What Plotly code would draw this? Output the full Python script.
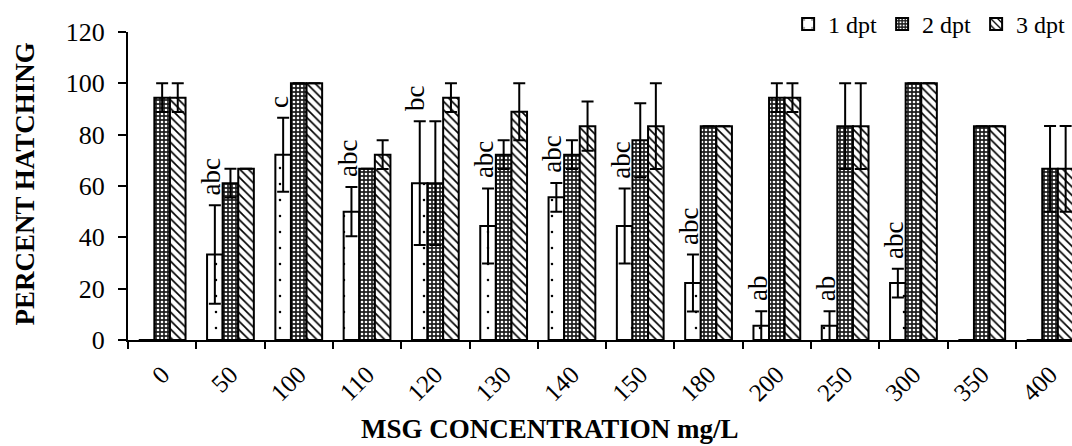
import plotly.graph_objects as go

# MSG concentrations (mg/L)
concentrations = ["0", "50", "100", "110", "120", "130", "140", "150",
                  "180", "200", "250", "300", "350", "400"]

# Mean percent hatching per day post treatment
hatch_1dpt = [0, 33.3, 72.2, 50.0, 61.1, 44.4, 55.6, 44.4, 22.2, 5.6, 5.6, 22.2, 0, 0]
hatch_2dpt = [94.4, 61.1, 100, 66.7, 61.1, 72.2, 72.2, 77.8, 83.3, 94.4, 83.3, 100, 83.3, 66.7]
hatch_3dpt = [94.4, 66.7, 100, 72.2, 94.4, 88.9, 83.3, 83.3, 83.3, 94.4, 83.3, 100, 83.3, 66.7]

# Error (± SD)
err_1dpt = [0, 19.2, 14.4, 9.6, 24.1, 14.6, 5.6, 14.6, 11.1, 5.6, 5.6, 5.6, 0, 0]
err_2dpt = [5.6, 5.6, 0, 0, 24.1, 5.6, 5.6, 14.4, 0, 5.6, 16.7, 0, 0, 16.7]
err_3dpt = [5.6, 0, 0, 5.6, 5.6, 11.1, 9.6, 16.7, 0, 5.6, 16.7, 0, 0, 16.7]

# Significance letters for 1 dpt
sig_letters = ["", "abc", "c", "abc", "bc", "abc", "abc", "abc",
               "abc", "ab", "ab", "abc", "", ""]

series_names = ["1 dpt", "2 dpt", "3 dpt"]

FONT = "Liberation Serif"
BAR_GAP = 0.315

patterns = [
    dict(shape=".", size=16, solidity=0.02, fgcolor="black", bgcolor="white", fillmode="replace"),
    dict(shape=".", size=4, solidity=0.35, fgcolor="white", bgcolor="#202020", fillmode="replace"),
    dict(shape="\\", size=6, solidity=0.28, fgcolor="black", bgcolor="white", fillmode="replace"),
]

fig = go.Figure()
for name, vals, errs, pat in zip(series_names,
                                 [hatch_1dpt, hatch_2dpt, hatch_3dpt],
                                 [err_1dpt, err_2dpt, err_3dpt],
                                 patterns):
    fig.add_trace(go.Bar(
        name=name,
        x=concentrations,
        y=vals,
        marker=dict(color="white", pattern=pat, line=dict(color="black", width=2)),
        error_y=dict(type="data", array=errs, visible=True,
                     color="black", thickness=2, width=6),
    ))

# Letters above the 1 dpt bars
bar_w = (1 - BAR_GAP) / 3
for i, (lab, v, e) in enumerate(zip(sig_letters, hatch_1dpt, err_1dpt)):
    if not lab:
        continue
    fig.add_annotation(
        x=i - bar_w, y=v + e, xref="x", yref="y",
        text=lab, showarrow=False, textangle=-90,
        xanchor="center", yanchor="bottom", yshift=8, xshift=-4,
        font=dict(family=FONT, size=27, color="black"),
    )

# Axis titles
fig.add_annotation(
    x=0.447, y=-0.344, xref="paper", yref="paper",
    text="<b>MSG CONCENTRATION mg/L</b>", showarrow=False,
    xanchor="center", yanchor="bottom",
    font=dict(family=FONT, size=27, color="black"),
)
fig.add_annotation(
    x=-0.109, y=0.505, xref="paper", yref="paper",
    text="<b>PERCENT HATCHING</b>", showarrow=False, textangle=-90,
    xanchor="center", yanchor="middle",
    font=dict(family=FONT, size=27, color="black"),
)

n_vis = (1072 - 128) / 68.3
fig.update_layout(
    width=1072, height=446,
    margin=dict(l=128, r=0, t=32, b=106, pad=0),
    paper_bgcolor="white", plot_bgcolor="white",
    barmode="group", bargap=BAR_GAP, bargroupgap=0,
    font=dict(family=FONT, color="black"),
    showlegend=True,
    legend=dict(orientation="h", x=0.998, xanchor="right", y=1.025, yanchor="middle",
                font=dict(family=FONT, size=24, color="black"),
                bgcolor="rgba(0,0,0,0)", itemwidth=30, tracegroupgap=0),
    xaxis=dict(
        type="category", categoryorder="array", categoryarray=concentrations,
        range=[-0.5, -0.5 + n_vis],
        tickson="boundaries", ticks="outside", ticklen=7, tickwidth=2, tickcolor="black",
        showline=True, linewidth=2, linecolor="black", showgrid=False,
        tickangle=-45, ticklabelstandoff=8,
        tickfont=dict(family=FONT, size=25, color="black"),
    ),
    yaxis=dict(
        range=[0, 120], tick0=0, dtick=20,
        ticks="outside", ticklen=8, tickwidth=2, tickcolor="black",
        showline=True, linewidth=2, linecolor="black", showgrid=False, zeroline=False,
        ticklabelstandoff=8,
        tickfont=dict(family=FONT, size=26, color="black"),
    ),
)

fig.write_html("out.html")
